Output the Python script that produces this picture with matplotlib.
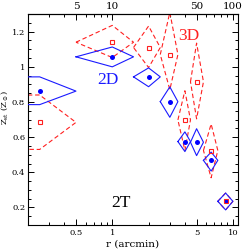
import matplotlib
matplotlib.use("Agg")
import matplotlib.pyplot as plt
from matplotlib.ticker import FixedLocator, FixedFormatter, NullFormatter

plt.rcParams['font.family'] = ['DejaVu Serif']
plt.rcParams['mathtext.fontset'] = 'dejavuserif'

# bin centres and edges (arcmin)
r = [0.25, 1.0, 2.0, 3.0, 4.0, 5.0, 6.6, 8.7]
r_lo = [1e-30, 0.5, 1.5, 2.5, 3.5, 4.45, 5.7, 7.5]
r_hi = [0.5, 1.5, 2.5, 3.5, 4.45, 5.7, 7.5, 10.0]

# 2D metallicities
z2d = [0.862, 1.057, 0.943, 0.802, 0.575, 0.571, 0.468, 0.235]
z2d_hi = [0.943, 1.113, 0.994, 0.886, 0.630, 0.648, 0.515, 0.282]
z2d_lo = [0.785, 1.000, 0.887, 0.713, 0.518, 0.495, 0.407, 0.186]

# 3D metallicities
z3d = [0.684, 1.140, 1.110, 1.070, 0.698, 0.915, 0.524, 0.235]
z3d_hi = [0.840, 1.236, 1.232, 1.310, 0.864, 1.135, 0.675, 0.282]
z3d_lo = [0.530, 1.053, 0.996, 0.870, 0.524, 0.704, 0.369, 0.186]

bottom_ticks = [0.5, 1, 5, 10]
bottom_labels = ['0.5', '1', '5', '10']
top_ticks = [5, 10, 50, 100]
top_labels = ['5', '10', '50', '100']

fig = plt.figure(figsize=(2.52, 2.52), dpi=100)
ax = fig.add_axes([0.111, 0.107, 0.833, 0.837])
ax.set_xscale('log')
ax.set_xlim(0.2, 11.0)
ax.set_ylim(0.1, 1.3)

def diamond(i, zc, zh, zl):
    xs = [r_lo[i], r[i], r_hi[i], r[i], r_lo[i]]
    ys = [zc, zh, zc, zl, zc]
    return xs, ys

for i in range(len(r)):
    xs, ys = diamond(i, z3d[i], z3d_hi[i], z3d_lo[i])
    ax.plot(xs, ys, color='#ff2020', lw=0.8, ls=(0, (4, 2.5)), zorder=2)
for i in range(len(r)):
    xs, ys = diamond(i, z2d[i], z2d_hi[i], z2d_lo[i])
    ax.plot(xs, ys, color='#1a1aff', lw=0.8, zorder=3)

ax.plot(r, z2d, 'o', color='#0000ff', ms=3.6, mec='none', zorder=4)
ax.plot(r, z3d, 's', mfc='none', mec='#ff2020', ms=3.2, mew=0.8, zorder=5)

ax.text(0.92, 0.925, '2D', color='#1a1aff', fontsize=12.5, family='Liberation Serif',
        ha='center', va='center')
ax.text(4.34, 1.174, '3D', color='#ff2020', fontsize=12.5, family='Liberation Serif',
        ha='center', va='center')
ax.text(1.19, 0.227, '2T', color='black', fontsize=12.5, family='Liberation Serif',
        ha='center', va='center')

ax.xaxis.set_major_locator(FixedLocator(bottom_ticks))
ax.xaxis.set_major_formatter(FixedFormatter(bottom_labels))
ax.xaxis.set_minor_locator(FixedLocator([0.3, 0.4, 0.6, 0.7, 0.8, 0.9, 2, 3, 4, 6, 7, 8, 9]))
ax.xaxis.set_minor_formatter(NullFormatter())
ax.yaxis.set_major_locator(FixedLocator([0.2, 0.4, 0.6, 0.8, 1.0, 1.2]))
ax.yaxis.set_major_formatter(FixedFormatter(['0.2', '0.4', '0.6', '0.8', '1', '1.2']))
ax.yaxis.set_minor_locator(FixedLocator([0.1 + 0.05 * k for k in range(25)]))

ax.tick_params(which='both', direction='in', right=True, top=False, labelsize=6,
               width=0.7, pad=3)
ax.tick_params(axis='y', which='both', pad=2)
ax.tick_params(which='major', length=4)
ax.tick_params(which='minor', length=2)

sec = ax.secondary_xaxis('top', functions=(lambda x: x * 10, lambda x: x / 10))
sec.xaxis.set_major_locator(FixedLocator(top_ticks))
sec.xaxis.set_major_formatter(FixedFormatter(top_labels))
sec.xaxis.set_minor_locator(FixedLocator([3, 4, 6, 7, 8, 9, 20, 30, 40, 60, 70, 80, 90]))
sec.xaxis.set_minor_formatter(NullFormatter())
sec.tick_params(which='both', direction='in', labelsize=7.5, width=0.7, pad=2)
sec.tick_params(which='major', length=4)
sec.tick_params(which='minor', length=2)

for s in ax.spines.values():
    s.set_linewidth(0.8)
sec.spines['top'].set_linewidth(0.8)

ax.set_xlabel('r (arcmin)', fontsize=7.5, labelpad=2)
ax.set_ylabel(r'Z$_{\rm st}$ (Z$_\odot$)', fontsize=6)
ax.yaxis.set_label_coords(-0.084, 0.56)

fig.savefig('out.png', dpi=100)
